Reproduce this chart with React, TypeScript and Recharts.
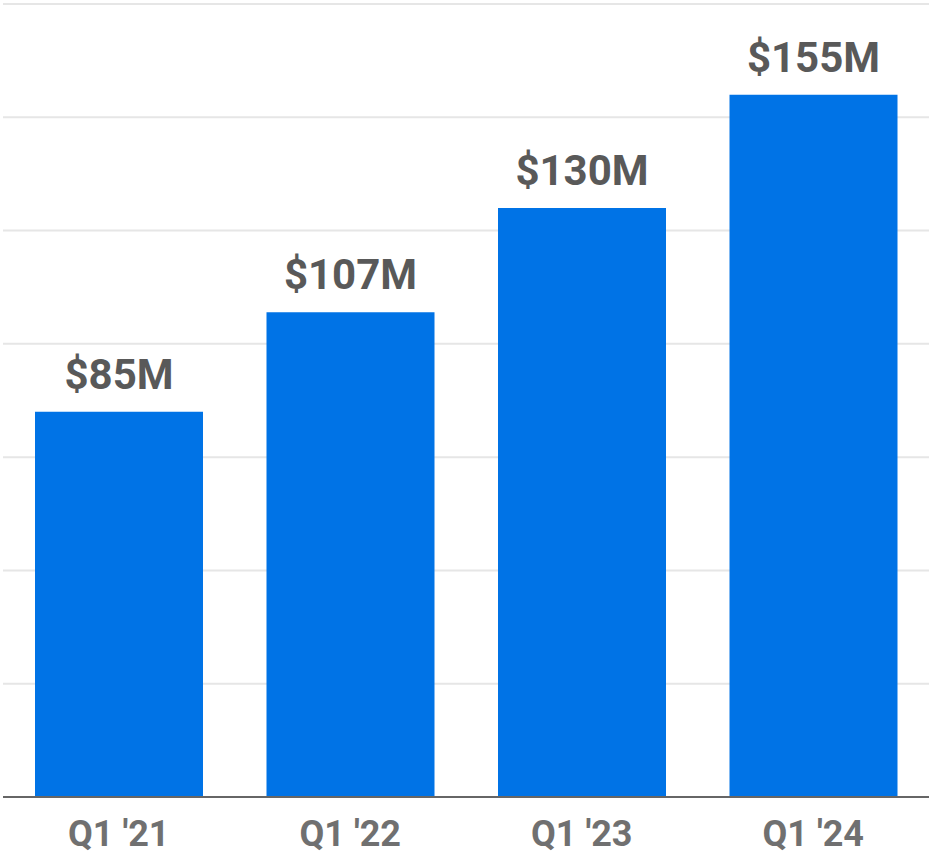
import React from "react";
import {
  BarChart,
  Bar,
  XAxis,
  YAxis,
  CartesianGrid,
  LabelList,
} from "recharts";

const quarters = ["Q1 '21", "Q1 '22", "Q1 '23", "Q1 '24"];
const revenue = [85, 107, 130, 155];
const yTicks = [0, 25, 50, 75, 100, 125, 150, 175];

const data = quarters.map((q, i) => ({ quarter: q, revenue: revenue[i] }));

export default function App() {
  return (
    <div style={{ position: "absolute", left: 0, top: 0, fontFamily: "Roboto" }}>
      <BarChart
        width={931}
        height={855}
        data={data}
        margin={{ top: 4, right: 2, left: 3, bottom: 0 }}
      >
        <CartesianGrid
          vertical={false}
          stroke="#e6e6e6"
          strokeWidth={2}
        />
        <XAxis
          dataKey="quarter"
          height={58}
          tickLine={false}
          tickSize={0}
          tickMargin={23}
          axisLine={{ stroke: "#666666", strokeWidth: 2 }}
          tick={{ fill: "#707070", fontSize: 36, fontWeight: "bold", fontFamily: "Roboto" }}
        />
        <YAxis hide domain={[0, 175]} ticks={yTicks} />
        <Bar dataKey="revenue" fill="#0073e6" barSize={168} isAnimationActive={false}>
          <LabelList
            dataKey="revenue"
            position="top"
            offset={23}
            formatter={(v: number) => `$${v}M`}
            fill="#595959"
            fontSize={42}
            fontWeight="bold"
            fontFamily="Roboto"
          />
        </Bar>
      </BarChart>
    </div>
  );
}
